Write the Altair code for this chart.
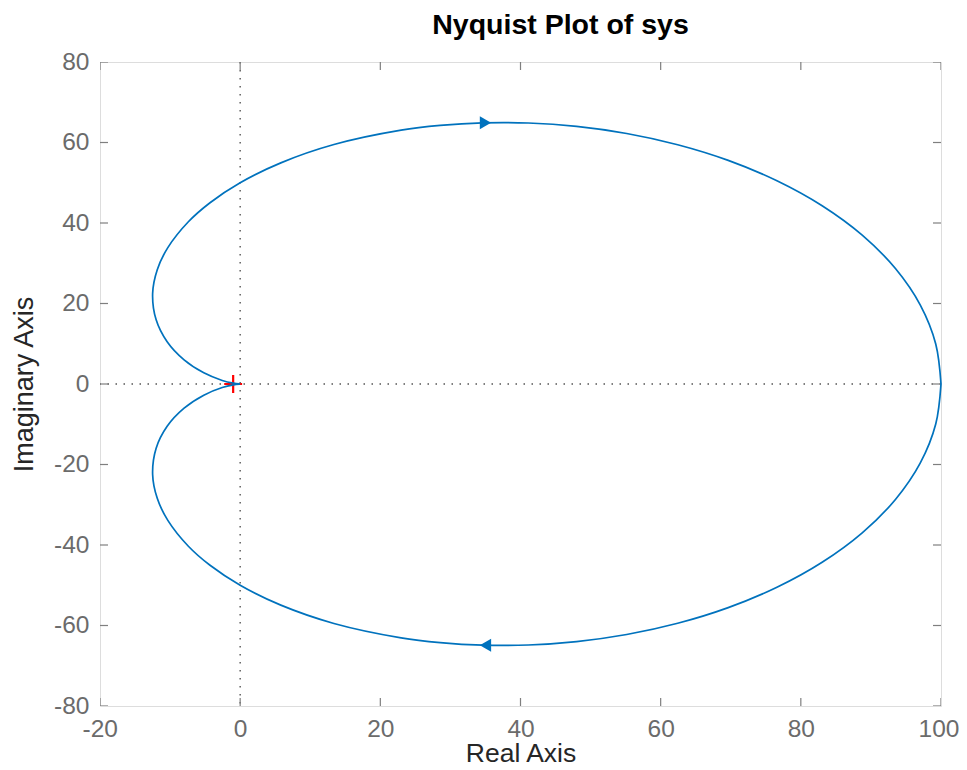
import altair as alt
import pandas as pd

# Nyquist curve, positive-frequency branch (lower half)
re_pos = [100.0, 99.25, 97.05, 93.50, 88.76, 83.04, 76.59, 69.64, 62.43, 55.15,
          48.0, 41.11, 34.60, 28.54, 22.97, 13.38, 5.80, 0.0, -4.30, -7.39,
          -10.32, -11.83, -12.49, -12.0, -10.42, -8.0, -5.19, -2.56, -0.97, -0.11, 0.0]
im_pos = [0.0, -9.95, -19.61, -28.69, -36.98, -44.29, -50.50, -55.56, -59.45, -62.24,
          -64.0, -64.84, -64.88, -64.24, -63.06, -59.49, -54.94, -50.0, -45.04, -40.31,
          -33.89, -28.40, -22.47, -16.0, -10.50, -6.0, -2.77, -0.88, -0.20, -0.01, 0.0]

# direction arrows
arrow_re = [35.0, 35.0]
arrow_im = [64.9, -64.9]

# critical point
crit_re = [-1.0]
crit_im = [0.0]

x_ticks = [-20, 0, 20, 40, 60, 80, 100]
y_ticks = [-80, -60, -40, -20, 0, 20, 40, 60, 80]
x_dom = [-20, 100]
y_dom = [-80, 80]

# upper branch = mirror (negative frequencies), drawn from origin to w=0
upper = pd.DataFrame({"re": re_pos[::-1], "im": [-v for v in im_pos[::-1]]})
lower = pd.DataFrame({"re": re_pos, "im": im_pos})
curve = pd.concat([upper, lower], ignore_index=True)
curve["order"] = range(len(curve))

BLUE = "#0072BD"
AX = "#7f7f7f"
FONT = "Liberation Sans"

xs = alt.Scale(domain=x_dom, nice=False, zero=False)
ys = alt.Scale(domain=y_dom, nice=False, zero=False)

xaxis = alt.Axis(values=x_ticks, ticks=False, domain=False, grid=False,
                 labelFontSize=24.5, labelColor="#6b6b6b", labelPadding=11,
                 labelFont=FONT, labelExpr="toString(datum.value)",
                 labelFlush=True, labelFlushOffset=18,
                 title="Real Axis", titleFont=FONT,
                 titleFontSize=26.5, titleFontWeight="normal", titleColor="#262626",
                 titleBaseline="alphabetic", titleY=55)
yaxis = alt.Axis(values=y_ticks, ticks=False, domain=False, grid=False,
                 labelFontSize=24.5, labelColor="#6b6b6b", labelPadding=11,
                 labelFont=FONT, labelExpr="toString(datum.value)",
                 title="Imaginary Axis", titleFont=FONT,
                 titleFontSize=27, titleFontWeight="normal", titleColor="#262626",
                 titlePadding=15, labelFlush=False)

line = alt.Chart(curve).mark_line(color=BLUE, strokeWidth=1.7,
                                  interpolate="catmull-rom").encode(
    x=alt.X("re:Q", scale=xs, axis=xaxis),
    y=alt.Y("im:Q", scale=ys, axis=yaxis),
    order="order:Q",
)

vline = alt.Chart(pd.DataFrame({"v": [0]})).mark_rule(
    color="#555555", strokeDash=[1.5, 6.5], strokeWidth=1.4
).encode(x=alt.X("v:Q", scale=xs))
hline = alt.Chart(pd.DataFrame({"v": [0]})).mark_rule(
    color="#555555", strokeDash=[1.5, 6.5], strokeWidth=1.4
).encode(y=alt.Y("v:Q", scale=ys))

arr_df = pd.DataFrame({"re": arrow_re, "im": arrow_im})
arr_top = alt.Chart(arr_df.iloc[[0]]).mark_point(
    shape="triangle-right", filled=True, color=BLUE, size=170, opacity=1
).encode(x=alt.X("re:Q", scale=xs), y=alt.Y("im:Q", scale=ys))
arr_bot = alt.Chart(arr_df.iloc[[1]]).mark_point(
    shape="triangle-left", filled=True, color=BLUE, size=170, opacity=1
).encode(x=alt.X("re:Q", scale=xs), y=alt.Y("im:Q", scale=ys))

crit = alt.Chart(pd.DataFrame({"re": crit_re, "im": crit_im})).mark_point(
    shape="M-1,0L1,0M0,-1L0,1", filled=False, stroke="#FF0000",
    strokeWidth=2.2, size=320, opacity=1
).encode(x=alt.X("re:Q", scale=xs), y=alt.Y("im:Q", scale=ys))

# inward ticks on all four sides (MATLAB box style)
tb = pd.DataFrame({"x": x_ticks * 2,
                   "y": [y_dom[0]] * len(x_ticks) + [y_dom[1]] * len(x_ticks)})
lr = pd.DataFrame({"x": [x_dom[0]] * len(y_ticks) + [x_dom[1]] * len(y_ticks),
                   "y": y_ticks * 2})
ticks_x = alt.Chart(tb).mark_tick(orient="vertical", size=16, thickness=1.2,
                                  color=AX, clip=True, opacity=1).encode(
    x=alt.X("x:Q", scale=xs), y=alt.Y("y:Q", scale=ys))
ticks_y = alt.Chart(lr).mark_tick(orient="horizontal", size=16, thickness=1.2,
                                  color=AX, clip=True, opacity=1).encode(
    x=alt.X("x:Q", scale=xs), y=alt.Y("y:Q", scale=ys))

chart = alt.layer(vline, hline, ticks_x, ticks_y, crit, line, arr_top, arr_bot).properties(
    width=841, height=644,
    title=alt.TitleParams("Nyquist Plot of sys", font=FONT, fontSize=28.5,
                          fontWeight="bold", color="#000000", anchor="middle",
                          dx=40, offset=10),
    autosize=alt.AutoSizeParams(type="none"),
    padding={"left": 92, "top": 54, "right": 18, "bottom": 56},
).configure_view(stroke=AX, strokeWidth=1.6).configure(background="white")

chart.save("out.html", embed_options={"renderer": "svg", "actions": False})
